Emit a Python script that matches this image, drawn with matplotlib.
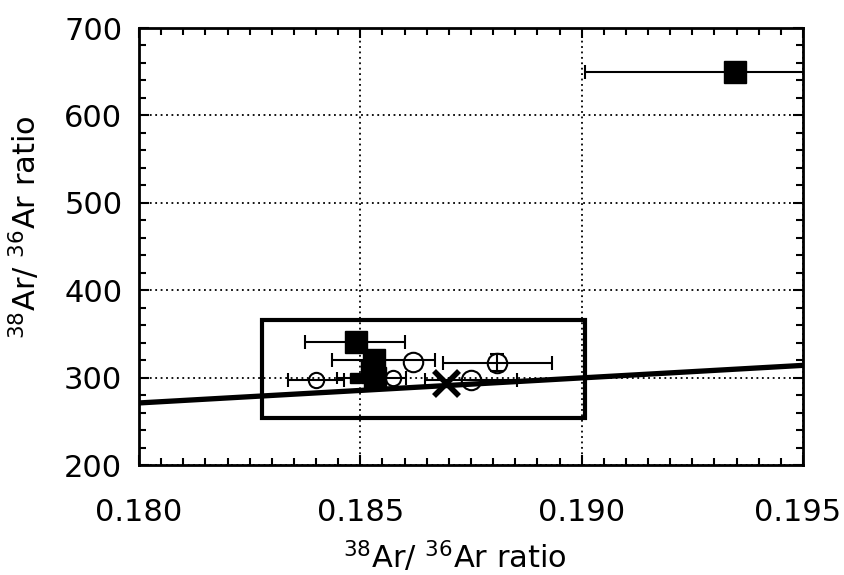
import matplotlib
matplotlib.use("Agg")
import matplotlib.pyplot as plt
import matplotlib.transforms as mtransforms
from matplotlib.patches import Rectangle
from matplotlib.ticker import MultipleLocator

# Reference line (end points)
line_x = [0.180, 0.195]
line_y = [271, 314]

# Box
box_x0, box_x1 = 0.18278, 0.19008
box_y0, box_y1 = 254, 366

# Filled squares, asymmetric x errors (left, right)
sq_x = [0.18490, 0.18530, 0.18526, 0.18532, 0.19346]
sq_y = [341, 320, 306, 299, 650]
sq_xerr_lo = [0.00115, 0.00094, 0.0, 0.0, 0.00338]
sq_xerr_hi = [0.00111, 0.00139, 0.0, 0.0, 0.00338]

# Small filled square
ssq_x = [0.18488]
ssq_y = [300]
ssq_xerr = [0.0004]

# Open circles
c_x = [0.18400, 0.18574, 0.18619, 0.18809, 0.18750]
c_y = [297, 300, 318, 317, 297]
c_xerr = [0.00063, 0.0003, 0.0, 0.00123, 0.00104]
c_yerr = [0, 0, 0, 10, 0]
c_size = [11, 11, 14, 14, 14]

# Cross
x_x = [0.18694]
x_y = [294]

fig = plt.figure(figsize=(8.45, 5.75), dpi=100)
ax = fig.add_axes([0.1645, 0.1913, 0.7858, 0.76])

# Line
ax.plot(line_x, line_y, color="black", lw=3.8, zorder=3, solid_capstyle="butt")

# Box
ax.add_patch(Rectangle((box_x0, box_y0), box_x1 - box_x0, box_y1 - box_y0,
                       fill=False, edgecolor="black", lw=3, zorder=2))

# Circles
for i in range(len(c_x)):
    ax.errorbar(c_x[i], c_y[i], xerr=c_xerr[i] if c_xerr[i] else None,
                yerr=c_yerr[i] if c_yerr[i] else None,
                fmt="o", ms=c_size[i], mfc="none", mec="black", mew=1.5,
                ecolor="black", elinewidth=1.5, capsize=5, capthick=1.5, zorder=4)

# Squares
for i in range(len(sq_x)):
    err = None
    if sq_xerr_lo[i] or sq_xerr_hi[i]:
        err = [[sq_xerr_lo[i]], [sq_xerr_hi[i]]]
    ax.errorbar(sq_x[i], sq_y[i], xerr=err,
                fmt="s", ms=16, mfc="black", mec="black",
                ecolor="black", elinewidth=1.5, capsize=5, capthick=1.5, zorder=5)
ax.errorbar(ssq_x, ssq_y, xerr=ssq_xerr, fmt="s", ms=7, mfc="black", mec="black",
            ecolor="black", elinewidth=1.5, capsize=4, capthick=1.5, zorder=5)

# Cross
ax.plot(x_x, x_y, "x", ms=18, mew=4, color="black", zorder=6)

ax.set_xlim(0.180, 0.195)
ax.set_ylim(200, 700)
ax.set_xticks([0.180, 0.185, 0.190, 0.195])
ax.set_xticklabels(["0.180", "0.185", "0.190", "0.195"])
ax.set_yticks([200, 300, 400, 500, 600, 700])
ax.xaxis.set_minor_locator(MultipleLocator(0.0005))
ax.yaxis.set_minor_locator(MultipleLocator(20))

ax.grid(True, which="major", linestyle=(0, (1, 2)), color="black", lw=1.3)
ax.set_axisbelow(True)

ax.tick_params(which="both", direction="in", top=True, right=True, width=1.5)
ax.tick_params(which="major", length=7)
ax.tick_params(which="minor", length=5)
ax.tick_params(axis="x", which="major", labelsize=22, pad=24)
ax.tick_params(axis="y", which="major", labelsize=22, pad=12)
for s in ax.spines.values():
    s.set_linewidth(2)

# keep the last x label inside the figure
last = ax.get_xticklabels()[-1]
last.set_transform(last.get_transform() +
                   mtransforms.ScaledTranslation(-5 / 100, 0, fig.dpi_scale_trans))

ax.set_xlabel(r"$^{38}$Ar/ $^{36}$Ar ratio", fontsize=22)
ax.set_ylabel(r"$^{38}$Ar/ $^{36}$Ar ratio", fontsize=22)
ax.xaxis.set_label_coords(0.476, -0.17)
ax.yaxis.set_label_coords(-0.145, 0.545)

fig.savefig("out.png", dpi=100)
